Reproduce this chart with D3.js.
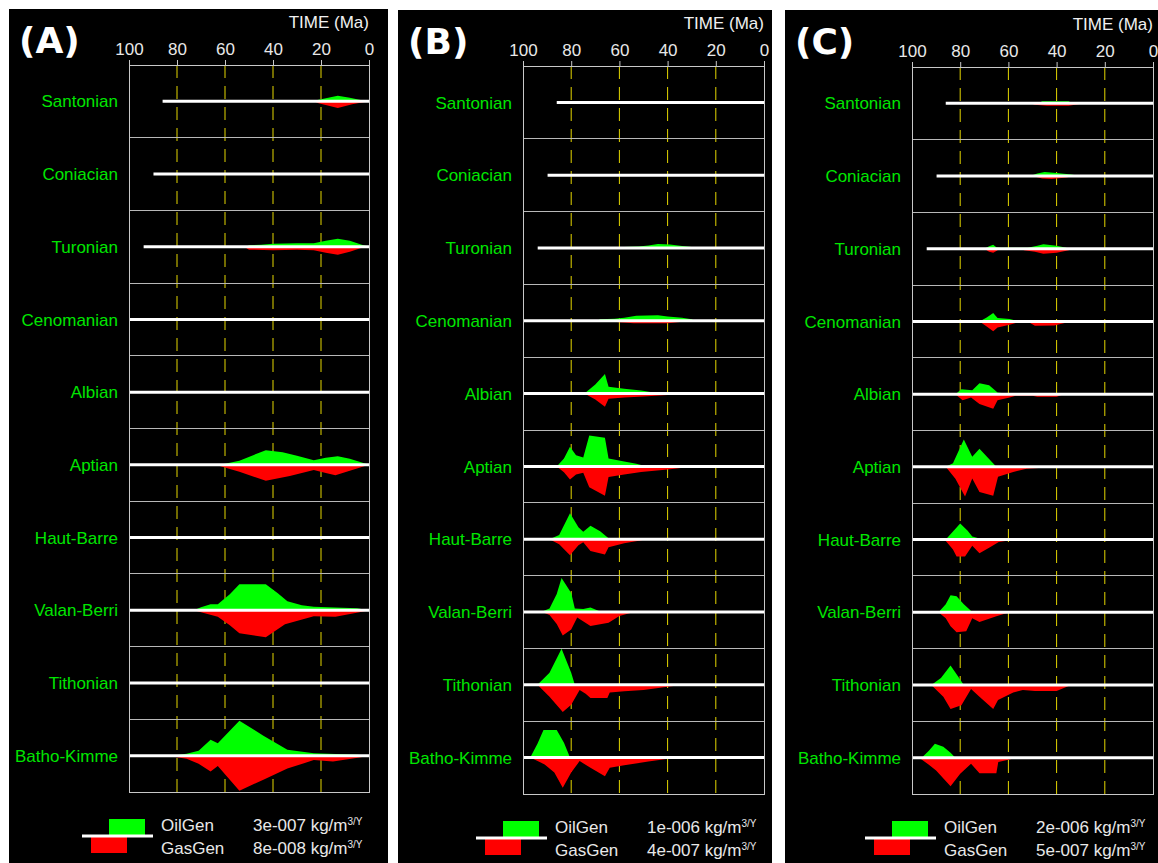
<!DOCTYPE html>
<html>
<head>
<meta charset="utf-8">
<script src="https://cdn.jsdelivr.net/npm/d3@7"></script>
<style>
  body { margin: 0; background: #fff; }
  svg text { font-family: "Liberation Sans", Arial, sans-serif; }
</style>
</head>
<body>
<svg id="chart" width="1158" height="863"></svg>
<script>
// source rock units, youngest on top, and their base age (Ma)
const stages = ["Santonian", "Coniacian", "Turonian", "Cenomanian", "Albian",
  "Aptian", "Haut-Barre", "Valan-Berri", "Tithonian", "Batho-Kimme"];
const stageBase = [86, 89.8, 93.9, 100.5, 113, 125, 136, 145.5, 152, 168];
const timeTicks = [100, 80, 60, 40, 20, 0];
const panelNames = ["(A)", "(B)", "(C)"];

// legend keys, in 1e-8 kg/m3/Y
const oilKey = [30, 100, 200];
const gasKey = [8, 40, 50];

// generation rates per unit: [age Ma, rate in 1e-8 kg/m3/Y]
const oilA = [
  [[35,0],[34,0.9],[22,1.8],[18,5.3],[13,9.7],[8,6.2],[3,1.8],[0,0]],
  [],
  [[51,0],[50,2.6],[45,3.5],[40,5.3],[30,6.2],[23,6.2],[18,10.6],[13,14.1],[8,10.6],[3,3.5],[0,0]],
  [],
  [],
  [[62,0],[54,7.1],[48,17.6],[43,25.6],[36,22.1],[30,15.9],[23,7.9],[18,12.4],[13,15],[8,10.6],[4,5.3],[0,0]],
  [],
  [[73,0],[70,5.3],[66,10.6],[63,10.6],[58,28.2],[54,45.9],[43,45.9],[38,30],[34,15.9],[28,8.8],[23,6.2],[5,3.5],[0,0]],
  [],
  [[82,0],[76,3.5],[71,8.8],[66,28.2],[63,22.1],[54,61.8],[44,35.3],[34,10.6],[23,4.4],[5,1.8],[0,0]]
];
const gasA = [
  [[23,0],[21,0.9],[13,3.1],[7,1.4],[3,0.5],[0,0]],
  [],
  [[52,0],[50,1.4],[40,1.6],[30,1.4],[23,1.6],[18,2.8],[13,3.8],[8,2.4],[3,0.5],[0,0]],
  [],
  [],
  [[64,0],[54,3.3],[43,7.5],[33,5.2],[23,2.4],[18,3.8],[14,4.9],[7,2.4],[0,0]],
  [],
  [[73,0],[70,0.9],[63,3.1],[58,7.1],[54,10.8],[43,12.7],[35,6.6],[23,2.8],[14,3.1],[4,0.9],[0,0]],
  [],
  [[84,0],[76,1.4],[71,3.8],[66,7.5],[63,4.9],[54,16.5],[44,11.3],[34,6.1],[23,2.1],[15,2.8],[4,0.9],[0,0]]
];

const oilB = [
  [],
  [],
  [[59,0],[58,6],[52,9],[48,15],[44,24],[39,21],[34,12],[30,6],[29,0]],
  [[69,0],[68,9],[62,12],[58,18],[53,29],[44,32],[40,26],[34,18],[30,9],[29,0]],
  [[74.5,0],[70,53],[66,115],[64.5,41],[58,29],[51,18],[44.5,3],[44,0]],
  [[86,0],[83,47],[80.5,115],[78,65],[75,53],[72.5,182],[66,168],[64.5,47],[58,29],[53,15],[48.5,0]],
  [[89,0],[85,24],[80.5,153],[77,71],[75,44],[72,79],[68,47],[64.5,6],[63,0]],
  [[92.5,0],[89,21],[86,106],[84,200],[80,112],[78.5,21],[75,18],[72,26],[68,3],[67,0]],
  [[94,0],[89,71],[84,212],[80,71],[78.5,0]],
  [[97,0],[94,82],[91.5,162],[86,162],[83,88],[80.5,0]]
];
const gasB = [
  [],
  [],
  [],
  [[68,0],[67,2.4],[65,1.2],[60,3.5],[54,5.9],[40,5.9],[34,2.4],[32,0]],
  [[74.5,0],[70,14],[66,31],[64.5,12],[58,9.4],[50,7.1],[40,3.5],[33.5,0]],
  [[86,0],[83,14],[80.5,31],[78,19],[75,15],[72.5,49],[66,69],[64.5,25],[58,19],[51,13],[40,7.1],[29,0]],
  [[89,0],[85,12],[80.5,38],[77,14],[75,7.1],[72,28],[66,36],[64.5,19],[58,9.4],[52,3.5],[48.5,0]],
  [[92,0],[89,7.1],[86,28],[83.5,55],[80,41],[77.5,13],[72,33],[64.5,25],[60,9.4],[54,0]],
  [[94,0],[89,28],[83.5,64],[80,47],[76.5,12],[74,21],[72,31],[65,31],[64,18],[58,15],[50,12],[40,4.7],[33.5,0]],
  [[97,0],[91,16],[87,35],[83.5,71],[80,35],[76.5,8.2],[72,24],[66,44],[64,24],[58,18],[48,9.4],[36,0]]
];

const oilC = [
  [[47.5,0],[46,24],[35,24],[33.5,0]],
  [[51,0],[48,29],[45,47],[40,35],[34,18],[30,0]],
  [[70,0],[68,29],[66.3,47],[65,18],[63,12],[52,12],[48,35],[45.5,53],[40,35],[36,12],[35,0]],
  [[72,0],[69,47],[66.3,100],[64.5,41],[59.5,29],[57,12],[41,12],[40,0]],
  [[82,0],[79.5,59],[75,47],[72,129],[68,106],[64.5,18],[60,6],[59,0]],
  [[86,0],[83,41],[78.5,323],[75,118],[72,212],[68.5,106],[65,0]],
  [[86,0],[83,94],[80,188],[77,106],[75,35],[72,12],[70,0]],
  [[89,0],[86,94],[84,200],[81.5,188],[78.5,94],[76,29],[75,0]],
  [[92,0],[88,82],[84,229],[81,106],[78.5,0]],
  [[96,0],[93,82],[90.5,165],[87,129],[84,59],[82,0]]
];
const gasC = [
  [[51,0],[49,4.4],[44,7.4],[35,7.4],[31,2.9],[29,0]],
  [[50,0],[46,7.4],[42,8.8],[36,4.4],[33,0]],
  [[70,0],[68,8.8],[66.3,12],[64.5,4.4],[64,0],[55,0],[53.5,4.4],[49,8.8],[45.5,15],[40,12],[35,4.4],[33.5,0]],
  [[72,0],[69,15],[66.3,29],[64.5,18],[59.5,10],[57,4.4],[51,4.4],[49,13],[41,12],[34,0]],
  [[82,0],[79,18],[75.5,10],[72,29],[66.3,43],[64.5,18],[59.5,10],[57,4.4],[50,4.4],[48,7.4],[40,7.4],[37,0]],
  [[86,0],[82,35],[78,87],[75,34],[72,74],[66.3,85],[64.3,29],[58,15],[52.5,5.9],[39,0]],
  [[86.5,0],[83,29],[81.5,50],[78,50],[75,18],[72,40],[68,24],[64,7.4],[57,0]],
  [[89,0],[86,18],[84,41],[81.5,59],[77.5,56],[75,18],[72,29],[65,12],[59.5,0]],
  [[92,0],[87,35],[84,71],[79.5,60],[75.5,12],[72,35],[66.3,71],[64.3,44],[58,22],[54,15],[49,18],[40,18],[34,0]],
  [[97,0],[93,21],[90,38],[84,84],[80,47],[75.5,18],[72,46],[65,46],[64.2,13],[60,5.9],[56.5,0]]
];

const oilData = [oilA, oilB, oilC];
const gasData = [gasA, gasB, gasC];

// panel frames (black boxes) and plot areas
const panels = [
  {x: 9,   y: 9,  w: 379, left: 129, right: 369,  top: 65, bottom: 792},
  {x: 398, y: 10, w: 374, left: 523, right: 764,  top: 66, bottom: 794},
  {x: 785, y: 10, w: 380, left: 912, right: 1153, top: 67, bottom: 794}
];
const keyPx = 17;
const frameColor = "#c8c8c8";
const fontSize = 17;

// "3e-007" style labels
const sci = v => (v * 1e-8).toExponential(0)
  .replace(/e([+-])(\d+)/, (m, s, d) => "e" + s + d.padStart(3, "0"));

const svg = d3.select("#chart");

panels.forEach((p, pi) => {
  const g = svg.append("g");
  g.append("rect")
    .attr("x", p.x).attr("y", p.y)
    .attr("width", p.w).attr("height", 863 - p.y)
    .attr("fill", "#000");

  const x = d3.scaleLinear().domain([100, 0]).range([p.left, p.right]);
  const row = d3.scaleBand().domain(stages).range([p.top, p.bottom]);
  const mid = s => row(s) + row.bandwidth() / 2;
  const yOil = d3.scaleLinear().domain([0, oilKey[pi]]).range([0, keyPx]);
  const yGas = d3.scaleLinear().domain([0, gasKey[pi]]).range([0, keyPx]);

  // dashed time lines
  g.selectAll("line.grid")
    .data(timeTicks.filter(t => t > 0 && t < 100))
    .join("line")
    .attr("x1", d => x(d)).attr("x2", d => x(d))
    .attr("y1", p.top).attr("y2", p.bottom)
    .attr("stroke", "#e4d600")
    .attr("stroke-dasharray", "13,8");

  // row separators
  g.selectAll("line.sep")
    .data(stages.slice(1))
    .join("line")
    .attr("x1", p.left).attr("x2", p.right)
    .attr("y1", d => row(d)).attr("y2", d => row(d))
    .attr("stroke", "#b8b8b8")
    .attr("shape-rendering", "crispEdges");

  stages.forEach((s, i) => {
    const base = mid(s);
    g.append("path")
      .datum(oilData[pi][i])
      .attr("fill", "#00ff00")
      .attr("d", d3.area().x(d => x(d[0])).y0(base).y1(d => base - yOil(d[1])));
    g.append("path")
      .datum(gasData[pi][i])
      .attr("fill", "#ff0000")
      .attr("d", d3.area().x(d => x(d[0])).y0(base).y1(d => base + yGas(d[1])));
    g.append("line")
      .attr("x1", x(Math.min(stageBase[i], 100))).attr("x2", x(0))
      .attr("y1", base).attr("y2", base)
      .attr("stroke", "#fff")
      .attr("stroke-width", 3);
  });

  // unit names
  g.selectAll("text.stage")
    .data(stages)
    .join("text")
    .attr("x", p.left - 11)
    .attr("y", d => mid(d))
    .attr("dy", "0.36em")
    .attr("text-anchor", "end")
    .attr("fill", "#00e600")
    .attr("font-size", fontSize)
    .text(d => d);

  // frame
  g.append("path")
    .attr("d", `M${p.left},${p.top}V${p.bottom}H${p.right}V${p.top}`)
    .attr("fill", "none")
    .attr("stroke", frameColor)
    .attr("shape-rendering", "crispEdges");

  // time axis
  const axis = g.append("g")
    .attr("transform", `translate(0,${p.top})`)
    .call(d3.axisTop(x).tickValues(timeTicks).tickSize(5).tickPadding(5).tickSizeOuter(0));
  axis.select(".domain").attr("stroke", frameColor);
  axis.selectAll(".tick line").attr("stroke", frameColor);
  axis.selectAll(".tick text")
    .attr("fill", "#e8e8e8")
    .attr("font-size", fontSize)
    .attr("font-family", "Liberation Sans, Arial, sans-serif");

  g.append("text")
    .attr("x", p.right).attr("y", p.top - 37)
    .attr("text-anchor", "end")
    .attr("fill", "#f0f0f0")
    .attr("font-size", fontSize)
    .text("TIME (Ma)");

  g.append("text")
    .attr("x", p.x + 10).attr("y", p.y + 44)
    .attr("fill", "#fff")
    .attr("font-size", 36)
    .attr("font-weight", "bold")
    .style("font-family", "DejaVu Sans")
    .text(panelNames[pi]);

  // legend
  const ly = p.bottom + 44;
  g.append("rect")
    .attr("x", p.left - 20).attr("y", ly - keyPx)
    .attr("width", 36).attr("height", keyPx)
    .attr("fill", "#00ff00");
  g.append("rect")
    .attr("x", p.left - 38).attr("y", ly)
    .attr("width", 36).attr("height", keyPx)
    .attr("fill", "#ff0000");
  g.append("line")
    .attr("x1", p.left - 47).attr("x2", p.left + 24)
    .attr("y1", ly).attr("y2", ly)
    .attr("stroke", "#fff").attr("stroke-width", 3);

  const items = [
    {name: "OilGen", key: oilKey[pi], dy: -5},
    {name: "GasGen", key: gasKey[pi], dy: 18}
  ];
  items.forEach(it => {
    g.append("text")
      .attr("x", p.left + 32).attr("y", ly + it.dy)
      .attr("fill", "#e8e8e8").attr("font-size", fontSize)
      .text(it.name);
    const t = g.append("text")
      .attr("x", p.left + 124).attr("y", ly + it.dy)
      .attr("fill", "#e8e8e8").attr("font-size", fontSize);
    t.append("tspan").text(sci(it.key) + " kg/m");
    t.append("tspan").attr("dy", -6).attr("font-size", 10).text("3/Y");
  });
});
</script>
</body>
</html>
